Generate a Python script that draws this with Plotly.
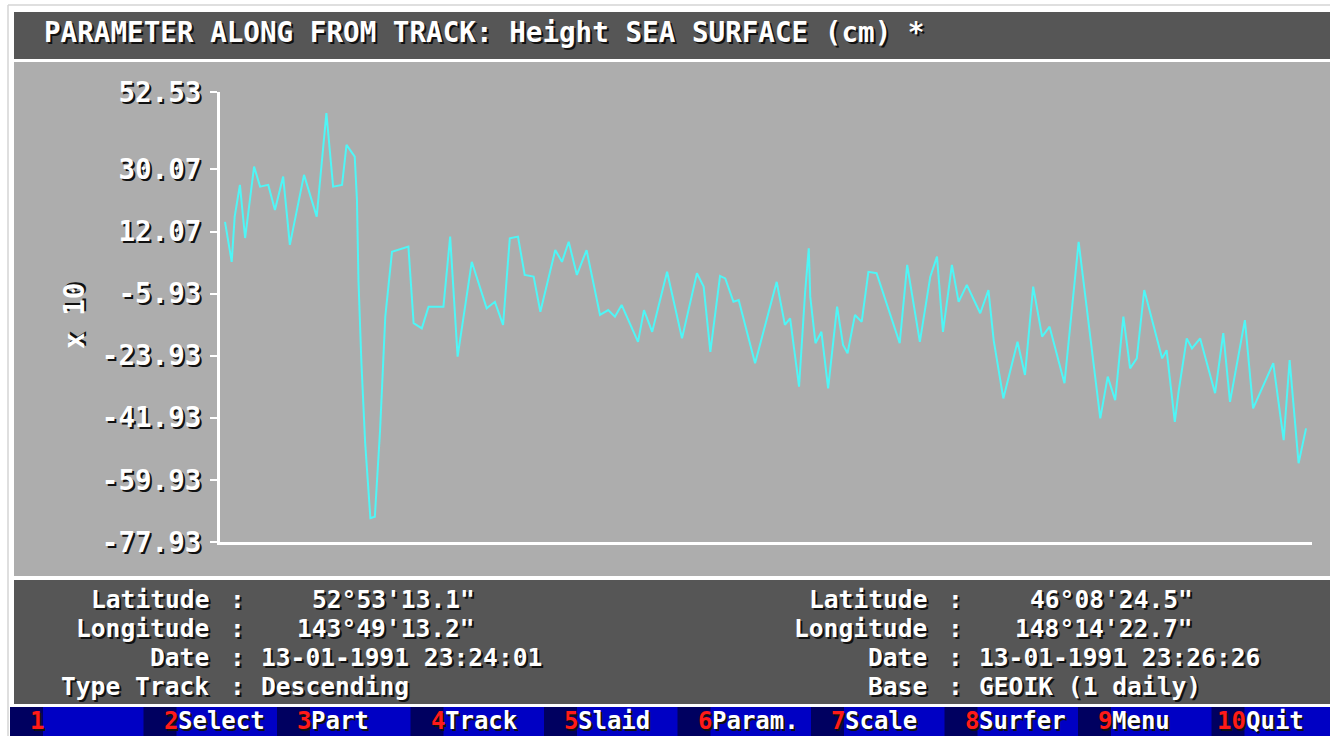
import plotly.graph_objects as go

# ---- track data -------------------------------------------------------
# seconds after the first point (13-01-1991 23:24:01)
t_sec = [0.0, 0.9, 1.3, 2.0, 2.7, 3.9, 4.7, 5.8, 6.7, 7.8, 8.7, 10.6, 12.3, 13.6,
         14.5, 15.7, 16.3, 17.4, 17.7, 17.9, 18.3, 18.8, 19.5, 20.1, 20.8, 21.5,
         22.4, 24.6, 25.3, 26.4, 27.3, 29.3, 30.2, 31.2, 33.1, 35.1, 36.2, 37.3,
         38.2, 39.3, 40.2, 41.4, 42.3, 44.3, 45.2, 46.1, 47.2, 48.5, 50.3, 51.4,
         52.3, 53.2, 55.4, 56.2, 57.3, 59.3, 61.3, 63.3, 64.2, 65.1, 66.4, 67.1,
         68.2, 68.9, 71.1, 74.0, 75.1, 75.8, 77.0, 77.8, 78.3, 78.5, 79.2, 80.0,
         80.9, 82.1, 82.9, 83.5, 84.5, 85.4, 86.3, 87.4, 90.5, 91.5, 93.2, 94.6,
         95.5, 96.3, 97.5, 98.4, 99.5, 101.3, 102.4, 103.1, 104.4, 106.3, 107.3,
         108.4, 109.6, 110.6, 112.6, 114.5, 117.4, 118.4, 119.4, 120.5, 121.4,
         122.3, 123.3, 125.7, 126.3, 127.4, 127.9, 129.0, 129.7, 130.8, 132.8,
         133.9, 134.8, 136.8, 137.9, 140.6, 142.0, 142.8, 144.0, 145.0]

# sea surface height (cm, x 10)
ssh = [14.9, 3.3, 16.4, 25.6, 10.2, 30.9, 25.1, 25.6, 18.3, 28.0, 8.2, 28.5, 16.4,
       46.4, 25.1, 25.6, 37.2, 33.8, 21.2, -2.0, -26.1, -49.2, -71.0, -70.6, -45.5,
       -12.6, 6.2, 7.7, -14.5, -16.0, -9.7, -9.7, 10.6, -24.2, 3.3, -10.2, -8.3,
       -15.0, 10.1, 10.6, -0.5, -1.0, -11.2, 6.7, 3.3, 9.1, -0.5, 6.7, -12.1, -10.7,
       -12.6, -9.2, -19.9, -10.7, -17.0, 0.4, -18.9, 0.0, -3.9, -22.8, -0.8, -1.5,
       -8.3, -7.8, -26.1, -2.5, -15.0, -13.1, -32.9, -5.8, 7.2, -6.8, -20.3, -17.0,
       -33.4, -9.7, -20.8, -23.2, -12.1, -14.1, 0.4, 0.0, -20.3, 2.4, -19.9, -1.0,
       4.8, -17.0, 2.4, -8.3, -3.4, -11.6, -4.9, -19.4, -36.3, -19.9, -29.5, -3.9,
       -18.4, -15.5, -31.9, 9.1, -42.1, -30.0, -36.8, -12.6, -27.6, -24.7, -4.9,
       -24.7, -22.3, -43.1, -34.4, -18.9, -21.8, -18.9, -34.8, -17.4, -37.3, -13.6,
       -39.2, -26.1, -48.4, -25.2, -55.1, -45.0]

y_tick_vals = [52.53, 30.07, 12.07, -5.93, -23.93, -41.93, -59.93, -77.93]
y_tick_text = ["52.53", "30.07", "12.07", "-5.93", "-23.93", "-41.93", "-59.93", "-77.93"]

title_text = "PARAMETER ALONG FROM TRACK: Height SEA SURFACE (cm) *"
scale_text = "x 10"

left_labels = ["Latitude", "Longitude", "Date", "Type Track"]
left_values = ["52°53'13.1\"", "143°49'13.2\"", "13-01-1991 23:24:01", "Descending"]
right_labels = ["Latitude", "Longitude", "Date", "Base"]
right_values = ["46°08'24.5\"", "148°14'22.7\"", "13-01-1991 23:26:26", "GEOIK (1 daily)"]

menu_keys = ["1", "2", "3", "4", "5", "6", "7", "8", "9", "10"]
menu_labels = ["", "Select", "Part", "Track", "Slaid", "Param.", "Scale", "Surfer", "Menu", "Quit"]

# ---- screen geometry (pixels) ----------------------------------------
W, H = 1330, 736
PL, PR, PT, PB = 220, 1312, 92, 542      # plotting box
CW = 16.6                                # text-mode character cell width
FONT = "DejaVu Sans Mono"
FS = 27.6
FS_INFO = 24.6
FS_MENU = 24
SHADOW = "2px 2px 0px #111111"


def px(x):
    return (x - PL) / (PR - PL)


def py(y):
    return (PB - y) / (PB - PT)


def nb(s):
    return s.replace(" ", "\u00a0")


fig = go.Figure()
fig.add_trace(go.Scatter(
    x=t_sec, y=ssh, mode="lines",
    line=dict(color="#4ef6f6", width=2),
    hoverinfo="skip", showlegend=False,
))

shapes = []


def rect(x0, y0, x1, y1, color):
    shapes.append(dict(type="rect", xref="paper", yref="paper",
                       x0=px(x0), x1=px(x1), y0=py(y1), y1=py(y0),
                       fillcolor=color, line=dict(width=0), layer="below"))


# window frame
shapes.append(dict(type="line", xref="paper", yref="paper", x0=px(8), x1=px(8),
                   y0=py(5), y1=py(H), line=dict(color="#d4d4d4", width=1.5), layer="below"))
shapes.append(dict(type="line", xref="paper", yref="paper", x0=px(8), x1=px(W),
                   y0=py(5), y1=py(5), line=dict(color="#d4d4d4", width=1.5), layer="below"))
rect(14, 12, W, 59, "#565656")          # title bar
rect(14, 62, W, 576, "#adadad")         # plot panel
rect(14, 580, W, 704, "#565656")        # info panel
rect(10, 707, W, H, "#0000c4")          # function-key bar

annotations = []


def text(x, y, s, color="#ffffff", anchor="left", angle=0, size=FS, yanchor="middle"):
    annotations.append(dict(
        xref="paper", yref="paper", x=px(x), y=py(y), text=nb(s),
        showarrow=False, xanchor=anchor, yanchor=yanchor, textangle=angle,
        borderpad=0,
        font=dict(family=FONT, size=size, color=color, weight="bold", shadow=SHADOW),
    ))


def info_row(x0, y, label, value, right_justify):
    """Label ends at column 10, colon in column 11, value from column 13."""
    text(x0 + 10 * CW, y, label, anchor="right", size=FS_INFO)
    text(x0 + 11 * CW + 2, y, ":", size=FS_INFO)
    if right_justify:
        text(x0 + 26 * CW, y, value, anchor="right", size=FS_INFO)
    else:
        text(x0 + 13 * CW, y, value, size=FS_INFO)


text(43, 33, title_text)
text(74, 316, scale_text, anchor="center", angle=-90)

# info panel: four text-mode rows per column
row_y = [599, 628, 657, 686]
for i in range(4):
    info_row(44, row_y[i], left_labels[i], left_values[i], i < 2)
    info_row(762, row_y[i], right_labels[i], right_values[i], i < 2)

# function-key bar: key number on dark cell, caption on blue
for k, (key, lab) in enumerate(zip(menu_keys, menu_labels)):
    x0 = 10 + 133.5 * k
    rect(x0, 707, x0 + 33, H, "#000060")
    text(x0 + 35, H, key, color="#ff1a1a", anchor="right", size=FS_MENU, yanchor="bottom")
    if lab:
        text(x0 + 33, H, lab, size=FS_MENU, yanchor="bottom")

fig.update_layout(
    width=W, height=H,
    margin=dict(l=PL, r=W - PR, t=PT, b=H - PB, pad=0),
    paper_bgcolor="#ffffff",
    plot_bgcolor="rgba(0,0,0,0)",
    shapes=shapes,
    annotations=annotations,
    showlegend=False,
    xaxis=dict(range=[-0.67, 145.8], showgrid=False, zeroline=False,
               showticklabels=False, ticks="", showline=True,
               linecolor="#ffffff", linewidth=3, fixedrange=True),
    yaxis=dict(range=[-77.93, 52.53], showgrid=False, zeroline=False,
               tickvals=y_tick_vals, ticktext=y_tick_text,
               ticks="outside", ticklen=7, tickwidth=2, tickcolor="#ffffff",
               ticklabelstandoff=3,
               tickfont=dict(family=FONT, size=FS, color="#ffffff",
                             weight="bold", shadow=SHADOW),
               showline=True, linecolor="#ffffff", linewidth=3, fixedrange=True),
)

fig.write_html("out.html", config={"displayModeBar": False})
